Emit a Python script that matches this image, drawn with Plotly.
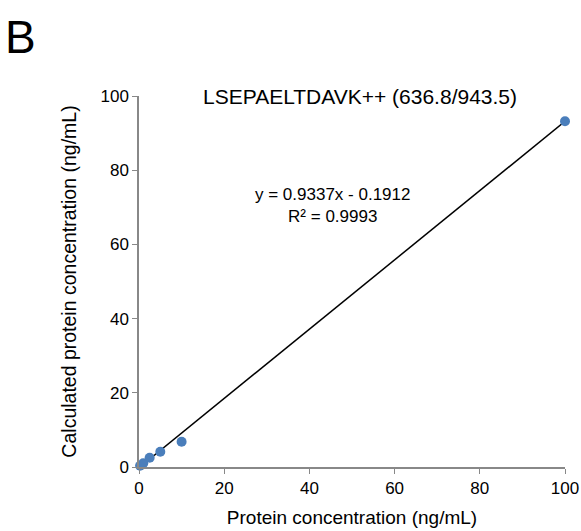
import plotly.graph_objects as go

protein_conc = [0.25, 1.0, 2.5, 5.0, 10.0, 100.0]
calc_conc = [0.35, 1.0, 2.5, 4.1, 6.8, 93.2]
slope = 0.9337
intercept = -0.1912
r2 = 0.9993
fit_x = [0.2, 100.0]
fit_y = [slope * v + intercept for v in fit_x]

title_text = "LSEPAELTDAVK++ (636.8/943.5)"
x_title = "Protein concentration (ng/mL)"
y_title = "Calculated protein concentration (ng/mL)"
tick_vals = [0, 20, 40, 60, 80, 100]

font_family = "Liberation Sans, Arial, sans-serif"

fig = go.Figure()
fig.add_trace(go.Scatter(x=fit_x, y=fit_y, mode="lines",
                         line=dict(color="black", width=1.5), showlegend=False, cliponaxis=False))
fig.add_trace(go.Scatter(x=protein_conc, y=calc_conc, mode="markers",
                         marker=dict(color="#4A7EBB", size=10), showlegend=False, cliponaxis=False))

axis_common = dict(range=[0, 100], tickvals=tick_vals, showgrid=False, zeroline=False,
                   showline=True, linecolor="#888888", linewidth=1.5, automargin=False,
                   ticks="outside", ticklen=5, tickcolor="#888888", tickwidth=1,
                   tickfont=dict(family=font_family, size=17, color="black"))

fig.update_layout(
    width=581, height=531,
    margin=dict(l=139, r=16, t=96, b=64),
    paper_bgcolor="white", plot_bgcolor="white",
    font=dict(family=font_family, color="black"),
    xaxis=dict(**axis_common, title=dict(text=x_title, font=dict(size=19), standoff=14)),
    yaxis=dict(**axis_common, title=dict(text=y_title, font=dict(size=19.5), standoff=19)),
    annotations=[
        dict(text="B", xref="paper", yref="paper", x=-0.32, y=1.16, xanchor="left", yanchor="middle",
             showarrow=False, font=dict(size=46, family=font_family)),
        dict(text=title_text, xref="x", yref="paper", x=51.8, y=1.0, xanchor="center", yanchor="middle",
             showarrow=False, font=dict(size=21, family=font_family)),
        dict(text=f"y = {slope}x - {abs(intercept)}<br>R² = {r2}", xref="x", yref="y", x=45.5, y=70.5,
             xanchor="center", yanchor="middle", showarrow=False,
             font=dict(size=17, family=font_family)),
    ],
)

fig.write_html("out.html")
